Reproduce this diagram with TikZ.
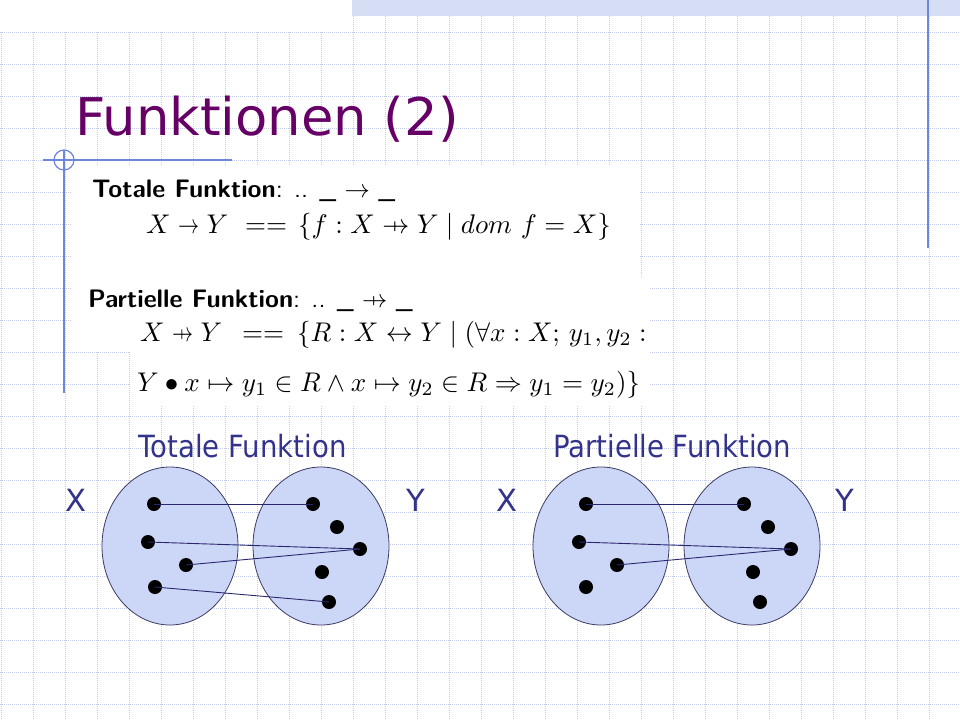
\documentclass[tikz,border=0pt]{standalone}
\usepackage{fontspec}
\usepackage{graphicx}
\usetikzlibrary{shapes.geometric}
\newfontfamily\dejavu{DejaVu Sans}
\definecolor{gridc}{RGB}{196,204,232}
\definecolor{bandc}{RGB}{214,222,246}
\definecolor{accent}{RGB}{110,135,220}
\definecolor{titlec}{RGB}{102,0,102}
\definecolor{labelc}{RGB}{51,51,140}
\definecolor{setfill}{RGB}{204,214,247}
\definecolor{setdraw}{RGB}{60,60,100}
\definecolor{connc}{RGB}{40,40,110}
\newcommand\pfn{\mathrel{\mkern7mu\mapstochar\mkern-7mu\rightarrow}}
\newcommand\shortto{\mathrel{\scalebox{0.78}[1]{$\rightarrow$}}}
\newcommand\shortpfn{\mathrel{\scalebox{0.78}[1]{$\pfn$}}}
\newcommand\zsc[1]{\scalebox{2.53}{#1}}
\newcommand\msc[1]{\scalebox{2.7}{#1}}
\tikzset{
  gridline/.style={draw=gridc, line width=0.9pt, dash pattern=on 1pt off 1pt},
  accentline/.style={draw=accent, line width=1.2pt},
  setnode/.style={ellipse, draw=setdraw, fill=setfill, line width=0.8pt, minimum width=136pt, minimum height=158pt, inner sep=0pt},
  dotnode/.style={circle, fill=black, minimum size=14pt, inner sep=0pt},
  conn/.style={draw=connc, line width=0.9pt},
  lbl/.style={text=labelc, font=\dejavu\fontsize{30.6}{36}\selectfont, inner sep=0pt},
  formula/.style={anchor=base west, inner sep=0pt}
}
\begin{document}
\begin{tikzpicture}[x=1pt,y=-1pt]
\useasboundingbox (0,0) rectangle (960,720);
\fill[white] (0,0) rectangle (960,720);
% grid
\foreach \x in {1,33,...,321} {\draw[gridline] (\x,32) -- (\x,720);}
\foreach \x in {353,385,...,961} {\draw[gridline] (\x,16) -- (\x,720);}
\foreach \y in {32,64,...,704} {\draw[gridline] (0,\y) -- (960,\y);}
% top band
\fill[bandc] (352,0) rectangle (960,16);
% accent lines
\draw[accentline] (928,0) -- (928,248);
\draw[accentline] (43,160) -- (232,160);
\draw[accentline] (64,150) -- (64,393);
\draw[accentline] (64,160) circle (10);
% title
\node[anchor=base west, inner sep=0pt, text=titlec, font=\dejavu\fontsize{52}{60}\selectfont] (title) at (75,135) {\scalebox{1.015}[1]{Funktionen (2)}};
% formula backgrounds
\fill[white] (72,166) rectangle (640,277);
\fill[white] (72,277) rectangle (650,352);
\fill[white] (130,352) rectangle (650,405);
% formulas
\node[formula] (f1) at (92,197) {\zsc{\sffamily\textbf{Totale Funktion}: .. \_ $\rightarrow$ \_}};
\node[formula] (f2a) at (146,233) {\msc{$X \shortto Y$}};
\node[formula] (f2b) at (245,233) {\msc{$==$}};
\node[formula] (f2c) at (298,233) {\msc{$\{f : X \pfn Y \mid dom\ f = X\}$}};
\node[formula] (f3) at (88,307) {\zsc{\sffamily\textbf{Partielle Funktion}: .. \_ $\pfn$ \_}};
\node[formula] (f4a) at (140,341) {\msc{$X \shortpfn Y$}};
\node[formula] (f4b) at (242,341) {\msc{$==$}};
\node[formula] (f4c) at (297,341) {\msc{$\{R : X \leftrightarrow Y \mid (\forall x : X;\, y_1, y_2 :$}};
\node[formula] (f5) at (137,391) {\msc{$Y \bullet x \mapsto y_1 \in R \wedge x \mapsto y_2 \in R \Rightarrow y_1 = y_2)\}$}};
% left diagram: total function
\node[setnode] (X1set) at (170,546) {};
\node[setnode] (Y1set) at (321,546) {};
\node[lbl, anchor=base] (ttl1) at (242.5,457) {\scalebox{0.9}[1]{Totale Funktion}};
\node[lbl, anchor=base] (xl1) at (76,511) {X};
\node[lbl, anchor=base] (yl1) at (416,511) {Y};
\node[dotnode] (a1) at (154,504) {};
\node[dotnode] (a2) at (148,542) {};
\node[dotnode] (a3) at (186,565) {};
\node[dotnode] (a4) at (155,587) {};
\node[dotnode] (b1) at (313,504) {};
\node[dotnode] (b2) at (337,527) {};
\node[dotnode] (b3) at (360,549) {};
\node[dotnode] (b4) at (322,572) {};
\node[dotnode] (b5) at (329,602) {};
\draw[conn] (a1.center) -- (b1.center);
\draw[conn] (a2.center) -- (b3.center);
\draw[conn] (a3.center) -- (b3.center);
\draw[conn] (a4.center) -- (b5.center);
% right diagram: partial function
\node[setnode] (X2set) at (601,546) {};
\node[setnode] (Y2set) at (752,546) {};
\node[lbl, anchor=base] (ttl2) at (672,457) {\scalebox{0.9}[1]{Partielle Funktion}};
\node[lbl, anchor=base] (xl2) at (507,511) {X};
\node[lbl, anchor=base] (yl2) at (845,511) {Y};
\node[dotnode] (c1) at (586,504) {};
\node[dotnode] (c2) at (579,542) {};
\node[dotnode] (c3) at (617,565) {};
\node[dotnode] (c4) at (586,587) {};
\node[dotnode] (d1) at (744,504) {};
\node[dotnode] (d2) at (768,527) {};
\node[dotnode] (d3) at (791,549) {};
\node[dotnode] (d4) at (753,572) {};
\node[dotnode] (d5) at (760,602) {};
\draw[conn] (c1.center) -- (d1.center);
\draw[conn] (c2.center) -- (d3.center);
\draw[conn] (c3.center) -- (d3.center);
\end{tikzpicture}
\end{document}
